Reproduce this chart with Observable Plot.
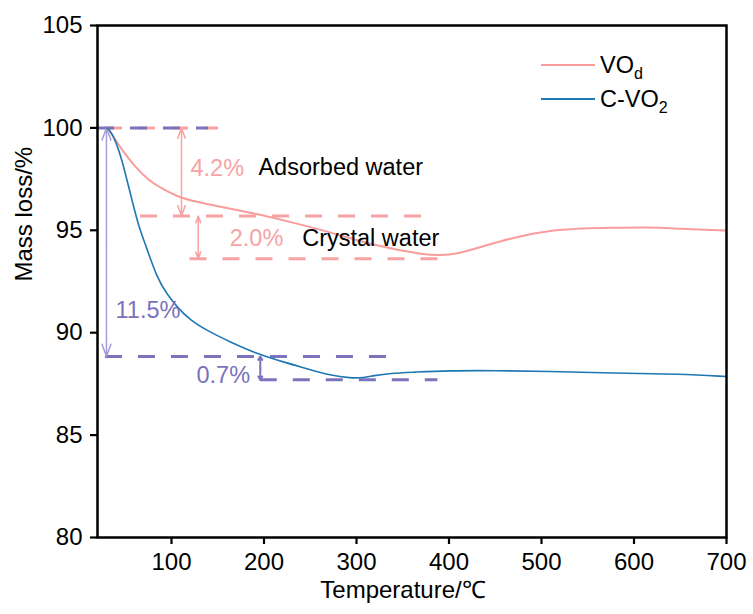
<!DOCTYPE html>
<html><head><meta charset="utf-8">
<script src="https://cdn.jsdelivr.net/npm/d3@7"></script>
<script src="https://cdn.jsdelivr.net/npm/@observablehq/plot@0.6"></script>
<style>
body{margin:0;background:#fff;}
#wrap{position:relative;width:753px;height:614px;font-family:"Liberation Sans",Arial,sans-serif;}
.leg{position:absolute;left:541px;height:28px;display:flex;align-items:center;font-size:23.5px;color:#000;white-space:nowrap;}
.leg .sw{display:inline-block;width:54px;height:2px;margin-right:5px;}
.leg sub{font-size:16px;vertical-align:-6px;line-height:0;}
</style></head><body><div id="wrap"></div>
<script>
// ---- data ----
const seriesNames = ["VOd", "C-VO2"];
const tempVO = [30, 34, 46.7, 61, 75.5, 90, 111.6, 133, 193, 229, 264, 301, 337, 372, 390, 410, 434, 470, 513, 545, 578, 615, 650, 700];
const massVO = [100, 99.8, 98.9, 98.08, 97.43, 97.03, 96.54, 96.33, 95.8, 95.4, 95.0, 94.5, 94.1, 93.82, 93.77, 93.85, 94.18, 94.66, 95.02, 95.1, 95.12, 95.15, 95.07, 94.99];
const tempC = [30, 34, 39.5, 46.7, 53.8, 64.6, 72, 84.5, 95, 106, 120.5, 138.6, 163.8, 192.6, 221.4, 246.7, 271.9, 293.5, 308, 318, 336.8, 361.6, 398, 452, 506, 578, 650, 700];
const massC = [100, 99.85, 99.38, 98.4, 97.1, 95.15, 94.3, 92.65, 91.9, 91.25, 90.6, 90.1, 89.54, 88.97, 88.56, 88.24, 87.91, 87.78, 87.8, 87.9, 88.02, 88.07, 88.15, 88.15, 88.12, 88.02, 87.99, 87.86];
const xTicks = [100, 200, 300, 400, 500, 600, 700];
const yTicks = [80, 85, 90, 95, 100, 105];
// dashed reference levels (group: 0 = VOd, 1 = C-VO2)
const levelGroup = [0, 0, 0, 1, 1, 1];
const levelY  = [100, 95.7, 93.61, 100, 88.84, 87.7];
const levelX1 = [28.6, 66.5, 120, 20, 28.6, 196];
const levelX2 = [150.8, 376, 392.6, 140, 339, 388];
// double arrows
const arrowGroup = [0, 0, 1, 1];
const arrowX   = [110.8, 128.9, 29.7, 196];
const arrowTop = [100, 95.7, 100, 88.84];
const arrowBot = [95.7, 93.61, 88.84, 87.7];
// annotation texts
const noteText = ["4.2%", "Adsorbed water", "2.0%", "Crystal water", "11.5%", "0.7%"];
const noteKind = [0, 2, 0, 2, 1, 1];
const noteX = [120.5, 194, 163, 241.3, 39.5, 127];
const noteY = [98.02, 98.05, 94.58, 94.6, 91.08, 87.9];

// ---- styles ----
const pinkLine = "#fa9c9c", pinkNote = "#f7a3a3", blue = "#1f77b4";
const purpleDash = "#7b73bd", purpleArrow = "#a39fd6", purpleNote = "#7b72bb";
const levelColor = [pinkNote, purpleDash];
const noteColor = [pinkNote, purpleNote, "#000"];

const vo = tempVO.map((t, i) => ({t, m: massVO[i]}));
const cv = tempC.map((t, i) => ({t, m: massC[i]}));
const levels = levelY.map((y, i) => ({y, x1: levelX1[i], x2: levelX2[i], g: levelGroup[i]}));
const arrows = arrowX.map((x, i) => ({x, top: arrowTop[i], bot: arrowBot[i], mid: (arrowTop[i] + arrowBot[i]) / 2, g: arrowGroup[i], i}));
const notes = noteText.map((s, i) => ({s, x: noteX[i], y: noteY[i], k: noteKind[i]}));

const font = "Liberation Sans, Arial, sans-serif";
const arrowMarks = [];
const arrowStyle = [
  {stroke: pinkNote, strokeWidth: 1.5, headLength: 11, headAngle: 40},
  {stroke: pinkNote, strokeWidth: 1.5, headLength: 11, headAngle: 40},
  {stroke: purpleArrow, strokeWidth: 1.5, headLength: 13, headAngle: 40},
  {stroke: purpleDash, strokeWidth: 2, headLength: 7, headAngle: 60}
];
arrows.forEach((a, i) => {
  arrowMarks.push(Plot.arrow([a], {x: "x", y1: "mid", y2: "top", ...arrowStyle[i]}));
  arrowMarks.push(Plot.arrow([a], {x: "x", y1: "mid", y2: "bot", ...arrowStyle[i]}));
});

const plot = Plot.plot({
  width: 753, height: 614,
  marginTop: 25, marginLeft: 97, marginRight: 27, marginBottom: 77,
  x: {domain: [20, 700]},
  y: {domain: [80, 105]},
  style: {fontFamily: font, fontSize: "24px", color: "#000", background: "#fff", overflow: "visible"},
  marks: [
    Plot.axisX({ticks: xTicks, tickSize: 7, tickPadding: 8, fontSize: 24, strokeWidth: 2.2, label: null}),
    Plot.axisY({ticks: yTicks, tickSize: 7, tickPadding: 8, fontSize: 24, strokeWidth: 2.2, label: null}),
    Plot.ruleY(levels.filter(d => d.g === 0), {y: "y", x1: "x1", x2: "x2", stroke: levelColor[0], strokeWidth: 3, strokeDasharray: "17,16"}),
    Plot.ruleY(levels.filter(d => d.g === 1), {y: "y", x1: "x1", x2: "x2", stroke: levelColor[1], strokeWidth: 3, strokeDasharray: "17,16"}),
    ...arrowMarks,
    Plot.line(vo, {x: "t", y: "m", stroke: pinkLine, strokeWidth: 2, curve: "basis"}),
    Plot.line(cv, {x: "t", y: "m", stroke: blue, strokeWidth: 1.6, curve: "basis"}),
    Plot.text(notes, {x: "x", y: "y", text: "s", textAnchor: "start", fill: d => noteColor[d.k], fontSize: 23.5}),
    Plot.text(["Mass loss/%"], {text: d => d, frameAnchor: "left", dx: -73, rotate: -90, fontSize: 24, fill: "#000"}),
    Plot.text(["Temperature/℃"], {text: d => d, frameAnchor: "bottom", dy: 60, dx: -9, fontSize: 24, fill: "#000"}),
    Plot.frame({stroke: "#000", strokeWidth: 2.5})
  ]
});
const wrap = document.getElementById("wrap");
wrap.appendChild(plot);

// legend
const legRows = [
  {label: "VO<sub>d</sub>", color: pinkLine, y: 65},
  {label: "C-VO<sub>2</sub>", color: blue, y: 99}
];
legRows.forEach(r => {
  const div = document.createElement("div");
  div.className = "leg";
  div.style.top = (r.y - 14) + "px";
  div.innerHTML = `<span class="sw" style="background:${r.color}"></span><span>${r.label}</span>`;
  wrap.appendChild(div);
});
</script>
</body></html>
